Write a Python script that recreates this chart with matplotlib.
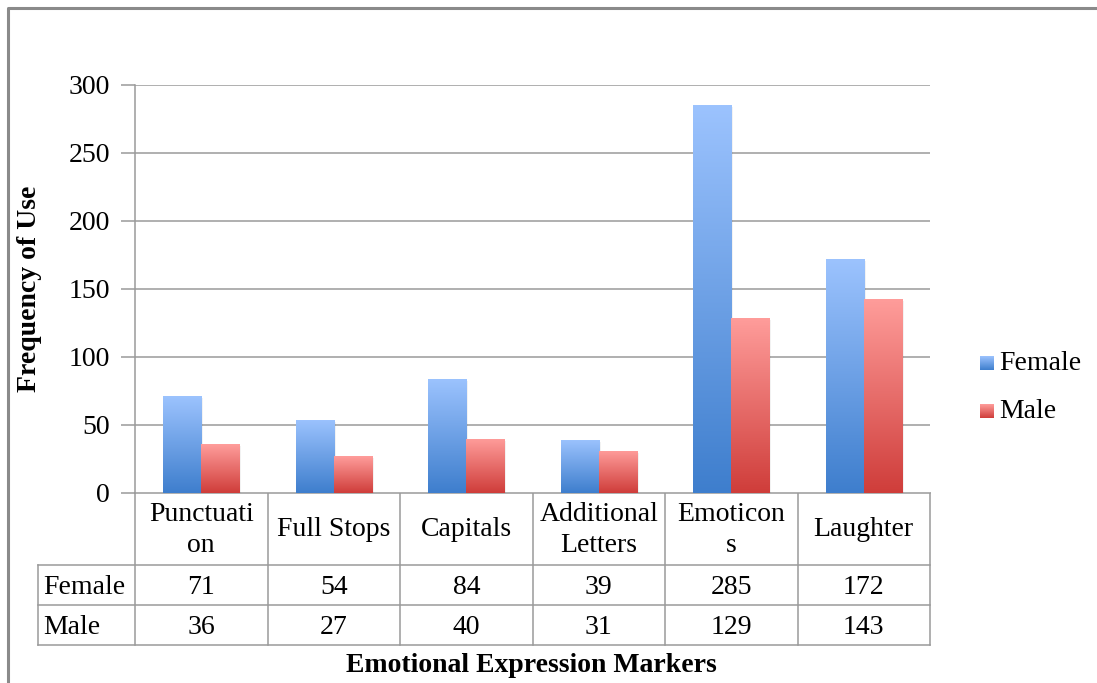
import numpy as np
import matplotlib
matplotlib.use("Agg")
import matplotlib.pyplot as plt
from matplotlib.colors import LinearSegmentedColormap

# Emotional expression markers by gender
categories = ["Punctuation", "Full Stops", "Capitals", "Additional Letters", "Emoticons", "Laughter"]
header_labels = ["Punctuati\non", "Full Stops", "Capitals", "Additional\nLetters", "Emoticon\ns", "Laughter"]
female = [71, 54, 84, 39, 285, 172]
male = [36, 27, 40, 31, 129, 143]
series_names = ["Female", "Male"]
y_ticks = [0, 50, 100, 150, 200, 250, 300]

plt.rcParams["font.family"] = ["Liberation Serif", "DejaVu Serif"]

W, H = 1097, 683
fig = plt.figure(figsize=(W / 100, H / 100), dpi=100)
grid_col = "#9a9a9a"

# pixel helpers for layout
def fx(px):
    return px / W

def fy(py):
    return 1 - py / H

plot_l, plot_r, plot_t, plot_b = 135, 930, 85, 493
ax = fig.add_axes([fx(plot_l), fy(plot_b), fx(plot_r - plot_l), (plot_b - plot_t) / H])

n = len(categories)
ax.set_xlim(0, n)
ax.set_ylim(0, 300)

cmap_f = LinearSegmentedColormap.from_list("f", ["#3e7ecd", "#9cc3fe"])
cmap_m = LinearSegmentedColormap.from_list("m", ["#cf3d3a", "#ff9d9b"])

bw = 0.287
x = np.arange(n) + 0.5
grad = np.linspace(0, 1, 256).reshape(-1, 1)

for vals, offs, cmap in [(female, -bw / 2, cmap_f), (male, bw / 2, cmap_m)]:
    bars = ax.bar(x + offs, vals, width=bw, color="none", edgecolor="none", zorder=3)
    for b, v in zip(bars, vals):
        x0 = b.get_x()
        # soft drop shadow
        ax.bar(x0 + bw / 2 + 0.015, v, width=bw, bottom=-1.5, color="#000000", alpha=0.05,
               edgecolor="none", zorder=2)
        im = ax.imshow(grad, extent=[x0, x0 + bw, 0, v], origin="lower", cmap=cmap,
                       aspect="auto", zorder=3)
        im.set_clip_path(b)

ax.set_xlim(0, n)
ax.set_ylim(0, 300)
ax.set_yticks(y_ticks)
ax.set_xticks([])
ax.yaxis.grid(True, color=grid_col, linewidth=1.1)
ax.set_axisbelow(True)
for s in ["top", "right", "bottom"]:
    ax.spines[s].set_visible(False)
ax.spines["left"].set_color(grid_col)
ax.spines["left"].set_linewidth(1.1)
ax.tick_params(axis="y", length=10, color=grid_col, width=1.1, labelsize=20, pad=8)

# overlay axes in pixel coordinates for the data table and frame
tax = fig.add_axes([0, 0, 1, 1], zorder=-1)
tax.set_xlim(0, W)
tax.set_ylim(H, 0)
tax.axis("off")

col_w = (plot_r - plot_l) / n
row_y = [plot_b, 565, 605, 645]
lab_l = 38
lw = 1.1
tax.plot([plot_l, plot_r], [plot_b, plot_b], color=grid_col, lw=lw)
for yy in row_y[1:]:
    tax.plot([lab_l, plot_r], [yy, yy], color=grid_col, lw=lw)
tax.plot([lab_l, lab_l], [row_y[1], row_y[3]], color=grid_col, lw=lw)
for i in range(n + 1):
    xx = plot_l + i * col_w
    tax.plot([xx, xx], [row_y[0], row_y[3]], color=grid_col, lw=lw)

for i in range(n):
    cx = plot_l + (i + 0.5) * col_w
    tax.text(cx, (row_y[0] + row_y[1]) / 2 + 1, header_labels[i], ha="center", va="center",
             fontsize=20, linespacing=1.3)
    tax.text(cx, (row_y[1] + row_y[2]) / 2 + 2, str(female[i]), ha="center", va="center", fontsize=20)
    tax.text(cx, (row_y[2] + row_y[3]) / 2 + 2, str(male[i]), ha="center", va="center", fontsize=20)

for r, name in enumerate(series_names):
    tax.text(lab_l + 5, (row_y[r + 1] + row_y[r + 2]) / 2 + 2, name, ha="left", va="center", fontsize=20)

# outer chart frame
tax.plot([8, 8, W + 5], [H + 5, 8, 8], color="#8a8a8a", lw=2.2)

# axis titles
fig.text(fx(30), fy(289), "Frequency of Use", rotation=90, ha="center", va="center",
         fontsize=20, fontweight="bold")
fig.text(fx(531), fy(665), "Emotional Expression Markers", ha="center", va="center",
         fontsize=20, fontweight="bold")

# legend
leg_sw = {"Female": ("#3e7ecd", "#9cc3fe"), "Male": ("#cf3d3a", "#ff9d9b")}
for k, (name, yy) in enumerate(zip(series_names, [363, 411])):
    c0, c1 = leg_sw[name]
    cm = LinearSegmentedColormap.from_list(name, [c0, c1])
    tax.imshow(grad, extent=[980, 994, yy + 7, yy - 7], origin="lower", cmap=cm, aspect="auto")
    tax.text(999, yy + 1, name, ha="left", va="center", fontsize=20)
tax.set_xlim(0, W)
tax.set_ylim(H, 0)

fig.savefig("out.png", dpi=100)
